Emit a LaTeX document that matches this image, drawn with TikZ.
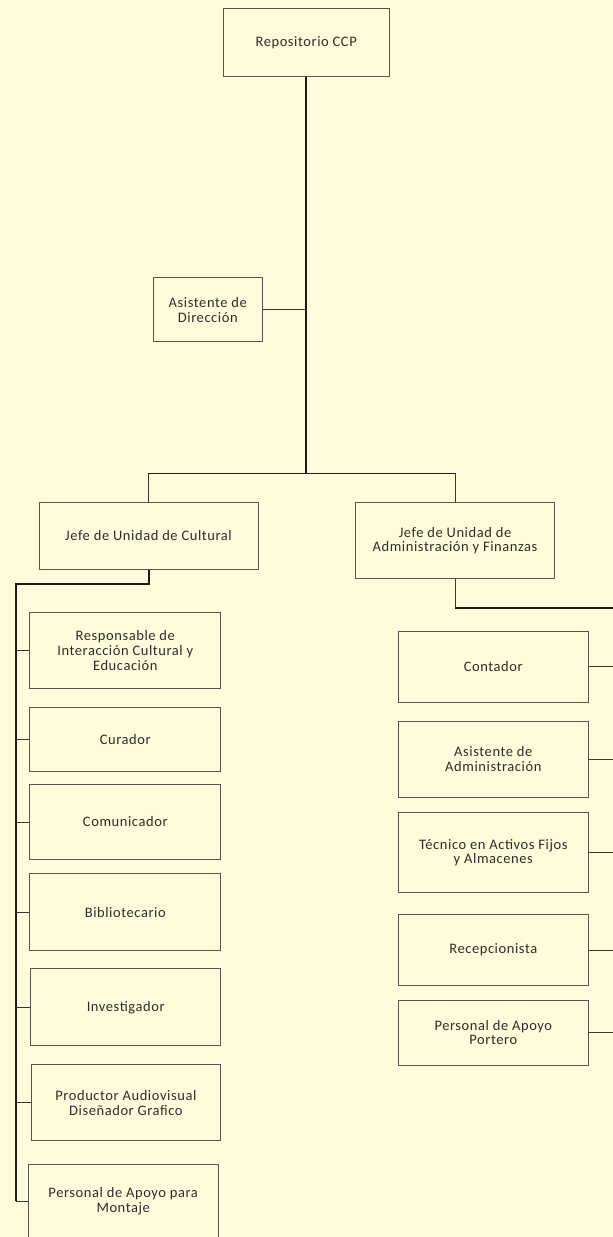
\documentclass[tikz,border=0pt]{standalone}
\usepackage{fontspec}
\setmainfont{Carlito}[LetterSpace=4]
\begin{document}
\begin{tikzpicture}[x=1pt,y=-1pt,
  box/.style={draw=boxline, line width=1pt, fill=bgc, text=txt, align=center,
    inner sep=0pt, font=\fontsize{14.5}{14.7}\selectfont},
  trunk/.style={draw=trunkc, line width=2pt},
  mid/.style={draw=trunkc, line width=1.4pt},
  thinl/.style={draw=thinc, line width=1pt}]
\definecolor{bgc}{RGB}{254,252,219}
\definecolor{boxline}{RGB}{85,85,82}
\definecolor{txt}{RGB}{45,45,45}
\definecolor{trunkc}{RGB}{25,25,25}
\definecolor{thinc}{RGB}{55,55,55}
\useasboundingbox (0,0) rectangle (613,1237);
\fill[bgc] (0,0) rectangle (613,1237);

% top
\node[box, minimum width=165.7pt, minimum height=68pt] (rep) at (306.2,42.3) {Repositorio CCP};
\node[box, minimum width=109pt, minimum height=64pt] (asis) at (207.8,309.7) {Asistente de\\Dirección};
\node[box, minimum width=219pt, minimum height=67pt] (jcul) at (148.5,535.5) {Jefe de Unidad de Cultural};
\node[box, minimum width=198.6pt, minimum height=75.6pt] (jadm) at (455,540.5) {Jefe de Unidad de\\Administración y Finanzas};

% left column
\node[box, minimum width=190.7pt, minimum height=76.7pt] (resp) at (125.3,650.6) {Responsable de\\Interacción Cultural y\\Educación};
\node[box, minimum width=190.7pt, minimum height=64pt] (cur) at (125.3,739.3) {Curador};
\node[box, minimum width=190.7pt, minimum height=75.4pt] (com) at (125.3,822) {Comunicador};
\node[box, minimum width=190.7pt, minimum height=76.7pt] (bib) at (125.3,912.3) {Bibliotecario};
\node[box, minimum width=190pt, minimum height=76.7pt] (inv) at (125.7,1007.3) {Investigador};
\node[box, minimum width=189.7pt, minimum height=75.7pt] (prod) at (125.9,1102.8) {Productor Audiovisual\\Diseñador Grafico};
\node[box, minimum width=189.7pt, minimum height=74pt] (mont) at (123.2,1201) {Personal de Apoyo para\\Montaje};

% right column
\node[box, minimum width=190pt, minimum height=71pt] (cont) at (493.3,666.5) {Contador};
\node[box, minimum width=190pt, minimum height=76.3pt] (asad) at (493.3,759.2) {Asistente de\\Administración};
\node[box, minimum width=190pt, minimum height=79.6pt] (tec) at (493.3,852.5) {Técnico en Activos Fijos\\y Almacenes};
\node[box, minimum width=190pt, minimum height=71.4pt] (rec) at (493.3,950) {Recepcionista};
\node[box, minimum width=190pt, minimum height=65pt] (port) at (493.3,1032.5) {Personal de Apoyo\\Portero};

% connectors
\coordinate (hub) at (306.2,473.3);
\draw[trunk] (rep.south) -- (hub);
\draw[thinl] (asis.east) -- (asis.east -| hub);
\draw[mid] (jcul.north |- hub) -- (jadm.north |- hub);
\draw[thinl] (jcul.north |- hub) -- (jcul.north);
\draw[thinl] (jadm.north |- hub) -- (jadm.north);

\coordinate (lb) at (15.7,584);
\draw[trunk] (jcul.south) |- (lb) -- (lb |- mont.west);
\foreach \n in {resp,cur,com,bib,inv,prod,mont}
  \draw[thinl] (lb |- \n.west) -- (\n.west);

\coordinate (rb) at (618,607.7);
\draw[thinl] (jadm.south) -- (jadm.south |- rb);
\draw[trunk] (jadm.south |- rb) -- (rb) -- (rb |- port.east);
\foreach \n in {cont,asad,tec,rec,port}
  \draw[thinl] (\n.east) -- (\n.east -| rb);
\end{tikzpicture}
\end{document}
